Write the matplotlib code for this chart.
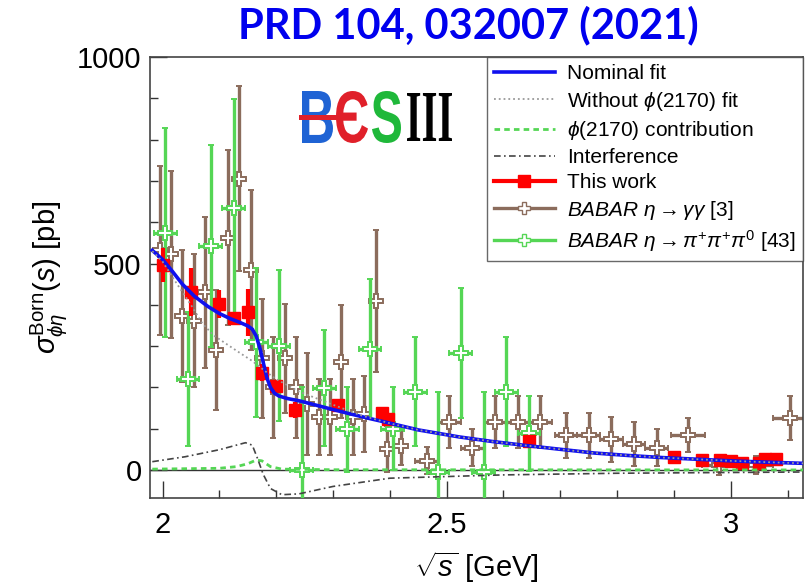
import matplotlib
matplotlib.use("Agg")
import matplotlib.pyplot as plt
from matplotlib.lines import Line2D
from matplotlib.ticker import MultipleLocator
from matplotlib.textpath import TextPath
from matplotlib.patches import PathPatch
from matplotlib.font_manager import FontProperties
from matplotlib.transforms import Affine2D

plt.rcParams['font.family'] = ['Liberation Sans', 'DejaVu Sans']
plt.rcParams['mathtext.fontset'] = 'custom'
plt.rcParams['mathtext.rm'] = 'Liberation Sans'
plt.rcParams['mathtext.it'] = 'Liberation Sans:italic'
plt.rcParams['mathtext.bf'] = 'Liberation Sans:bold'

# BESIII "this work"
bes_x = [2.0000, 2.0500, 2.1000, 2.1250, 2.1500, 2.1750, 2.2000, 2.2324, 2.3094, 2.3864,
         2.3960, 2.6444, 2.9000, 2.9500, 2.9810, 3.0000, 3.0200, 3.0500, 3.0600, 3.0800]
bes_y = [496, 431, 402, 367, 382, 236, 203, 145, 158, 138,
         124, 69, 32, 24, 24, 22, 17, 17, 27, 27]
bes_err = [41, 58, 33, 15, 57, 20, 15, 20, 15, 12,
           15, 10, 8, 7, 6, 6, 7, 7, 6, 6]

# BABAR eta -> gamma gamma
gg_x = [1.995, 2.015, 2.035, 2.055, 2.075, 2.095, 2.115, 2.135, 2.155, 2.175,
        2.195, 2.215, 2.235, 2.255, 2.275, 2.295, 2.315, 2.335, 2.355, 2.375,
        2.395, 2.420, 2.465, 2.505, 2.545, 2.585, 2.625, 2.665, 2.710, 2.750,
        2.790, 2.830, 2.870, 2.925, 2.980, 3.045, 3.105]
gg_y = [532, 522, 372, 362, 431, 290, 563, 705, 484, 271,
        200, 270, 200, 160, 129, 129, 262, 129, 135, 410,
        50, 57, 22, 116, 54, 116, 116, 116, 84, 84,
        74, 63, 54, 84, 12, 12, 125]
gg_err = [204, 202, 160, 162, 183, 145, 212, 224, 194, 144,
          122, 132, 122, 124, 92, 92, 137, 92, 92, 172,
          56, 46, 33, 64, 44, 64, 64, 64, 54, 54,
          55, 54, 44, 41, 25, 22, 53]
gg_xerr = [0.01] * 22 + [0.02] * 11 + [0.03] * 4

# BABAR eta -> pi pi pi0
pp_x = [2.005, 2.045, 2.085, 2.125, 2.165, 2.205, 2.245, 2.285, 2.325, 2.365,
        2.405, 2.445, 2.485, 2.525, 2.565, 2.605, 2.645]
pp_y = [575, 220, 542, 634, 309, 301, 0, 199, 98, 293,
        100, 190, -5, 283, -5, 190, 89]
pp_err = [253, 163, 245, 264, 181, 183, 200, 140, 103, 170,
          100, 132, 195, 158, 195, 132, 91]

# fit curves
fit_x = [1.982, 2.000, 2.018, 2.035, 2.056, 2.080, 2.100, 2.120, 2.135, 2.150,
         2.158, 2.165, 2.172, 2.178, 2.184, 2.190, 2.197, 2.205, 2.220, 2.242,
         2.270, 2.301, 2.330, 2.360, 2.395, 2.450, 2.522, 2.580, 2.641, 2.700,
         2.760, 2.820, 2.879, 2.940, 3.000, 3.060, 3.128]
fit_y = [532, 510, 480, 450, 421, 396, 379, 366, 358, 349,
         341, 324, 292, 256, 222, 200, 186, 179, 173, 167,
         157, 146, 136, 126, 115, 97, 80, 69, 59, 50,
         41, 35, 30, 26, 22, 19, 16]

nophi_x = [1.982, 2.000, 2.020, 2.050, 2.070, 2.090, 2.117, 2.140, 2.158, 2.180,
           2.200, 2.240, 2.300, 2.350, 2.400, 2.450, 2.522, 2.580, 2.641, 2.700,
           2.760, 2.820, 2.879, 2.940, 3.000, 3.060, 3.128]
nophi_y = [530, 505, 462, 400, 355, 326, 301, 280, 264, 240,
           220, 190, 158, 132, 113, 97, 80, 69, 59, 50,
           41, 35, 30, 26, 22, 19, 16]

phi_x = [1.982, 2.100, 2.130, 2.150, 2.165, 2.175, 2.190, 2.210, 2.300, 3.128]
phi_y = [2, 4, 8, 15, 24, 22, 8, 2, 0.5, 0]

intf_x = [1.982, 2.040, 2.100, 2.146, 2.158, 2.168, 2.177, 2.190, 2.210, 2.240,
          2.300, 2.400, 2.600, 2.800, 3.128]
intf_y = [20, 32, 49, 66, 60, 25, -10, -45, -60, -58,
          -40, -20, -12, -8, -5]

brown = '#8b6c5c'
green = '#55d655'
blue = '#1010ee'
W, H = 810, 587

fig = plt.figure(figsize=(8.1, 5.87), dpi=100)
ax = fig.add_axes([0.1852, 0.1516, 0.806, 0.751])

ax.axhline(0, color='#333333', lw=1.0, zorder=1)
ax.errorbar(gg_x, gg_y, yerr=gg_err, xerr=gg_xerr, fmt='P', color=brown, ms=10,
            mfc='white', mec=brown, mew=1.4, elinewidth=2.4, capsize=2, capthick=2.4, zorder=2)
ax.errorbar(pp_x, pp_y, yerr=pp_err, xerr=0.02, fmt='P', color=green, ms=10,
            mfc='white', mec=green, mew=1.4, elinewidth=2.4, capsize=2, capthick=2.4, zorder=3)
ax.errorbar(bes_x, bes_y, yerr=bes_err, fmt='s', color='red', ms=9,
            elinewidth=3, capsize=0, zorder=4)
ax.plot(phi_x, phi_y, color=green, ls=(0, (2, 1.5)), lw=2, zorder=5)
ax.plot(intf_x, intf_y, color='#444444', ls=(0, (4, 2, 1, 2)), lw=1.2, zorder=5)
ax.plot(fit_x, fit_y, color=blue, lw=2.6, zorder=6)
ax.plot(nophi_x, nophi_y, color='#999999', ls=':', lw=1.3, zorder=7)

ax.set_xlim(1.978, 3.127)
ax.set_ylim(-68, 1000)
ax.set_yticks([0, 500, 1000])
ax.set_xticks([2, 2.5, 3])
ax.set_xticklabels(['2', '2.5', '3'])
ax.xaxis.set_minor_locator(MultipleLocator(0.1))
ax.yaxis.set_minor_locator(MultipleLocator(100))
ax.tick_params(which='both', direction='in', labelsize=21, color='#333333')
ax.tick_params(which='major', length=12, width=1)
ax.tick_params(which='minor', length=6, width=1)
ax.tick_params(axis='x', pad=9)
ax.tick_params(axis='y', pad=6)
for s in ax.spines.values():
    s.set_color('#444444')
    s.set_linewidth(1.2)

ax.set_xlabel(r'$\sqrt{s}$ [GeV]', fontsize=21, labelpad=8)
ax.set_ylabel(r'$\sigma^{\mathrm{Born}}_{\phi\eta}(s)$ [pb]', fontsize=21, labelpad=6)

handles = [
    Line2D([], [], color=blue, lw=2.6),
    Line2D([], [], color='#999999', ls=':', lw=1.3),
    Line2D([], [], color=green, ls=(0, (2, 1.5)), lw=2),
    Line2D([], [], color='#444444', ls=(0, (4, 2, 1, 2)), lw=1.2),
    Line2D([], [], color='red', lw=3, marker='s', ms=9),
    Line2D([], [], color=brown, lw=2.4, marker='P', ms=9, mfc='white', mec=brown),
    Line2D([], [], color=green, lw=2.4, marker='P', ms=9, mfc='white', mec=green),
]
labels = ['Nominal fit', r'Without $\phi$(2170) fit', r'$\phi$(2170) contribution',
          'Interference', 'This work', r'$BABAR$ $\eta\rightarrow\gamma\gamma$ [3]',
          r'$BABAR$ $\eta\rightarrow\pi^{+}\pi^{+}\pi^{0}$ [43]']
leg = ax.legend(handles, labels, loc='upper right', fontsize=15, frameon=True,
                fancybox=False, edgecolor='#444444', borderaxespad=0,
                handlelength=2.9, handletextpad=0.6, labelspacing=0.3, borderpad=0.35)
leg.get_frame().set_linewidth(1.0)
leg.set_zorder(10)


# BESIII logo: glyph outlines stretched into boxes (pixel coords from top-left)
def logo_glyph(s, x0, x1, top, bottom, color, prop):
    tp = TextPath((0, 0), s, size=100, prop=prop)
    ext = tp.get_extents()
    tr = (Affine2D().translate(-ext.x0, -ext.y0)
          .scale((x1 - x0) / ext.width / W, (bottom - top) / ext.height / H)
          .translate(x0 / W, 1 - bottom / H))
    fig.add_artist(PathPatch(tr.transform_path(tp), facecolor=color, lw=0,
                             transform=fig.transFigure))


sans_b = FontProperties(family='Liberation Sans', weight='bold')
serif_b = FontProperties(family='Liberation Serif', weight='bold')
logo_glyph('B', 302, 333, 91, 143, '#1f63d4', sans_b)
fig.add_artist(Line2D([301 / W, 350 / W], [1 - 117 / H, 1 - 117 / H],
                      color='#e0202a', lw=3.6))
logo_glyph('Є', 336, 368, 91, 143, '#e0202a', sans_b)
logo_glyph('S', 372, 401, 91, 143, '#1fb83a', sans_b)
logo_glyph('III', 407, 452, 93, 141, 'black', serif_b)

fig.text(468 / W, 1 - 25 / H, 'PRD 104, 032007 (2021)', color='#0000ee',
         fontsize=30, fontweight='bold', family='Lato', ha='center', va='center')

fig.savefig('out.png', dpi=100)
